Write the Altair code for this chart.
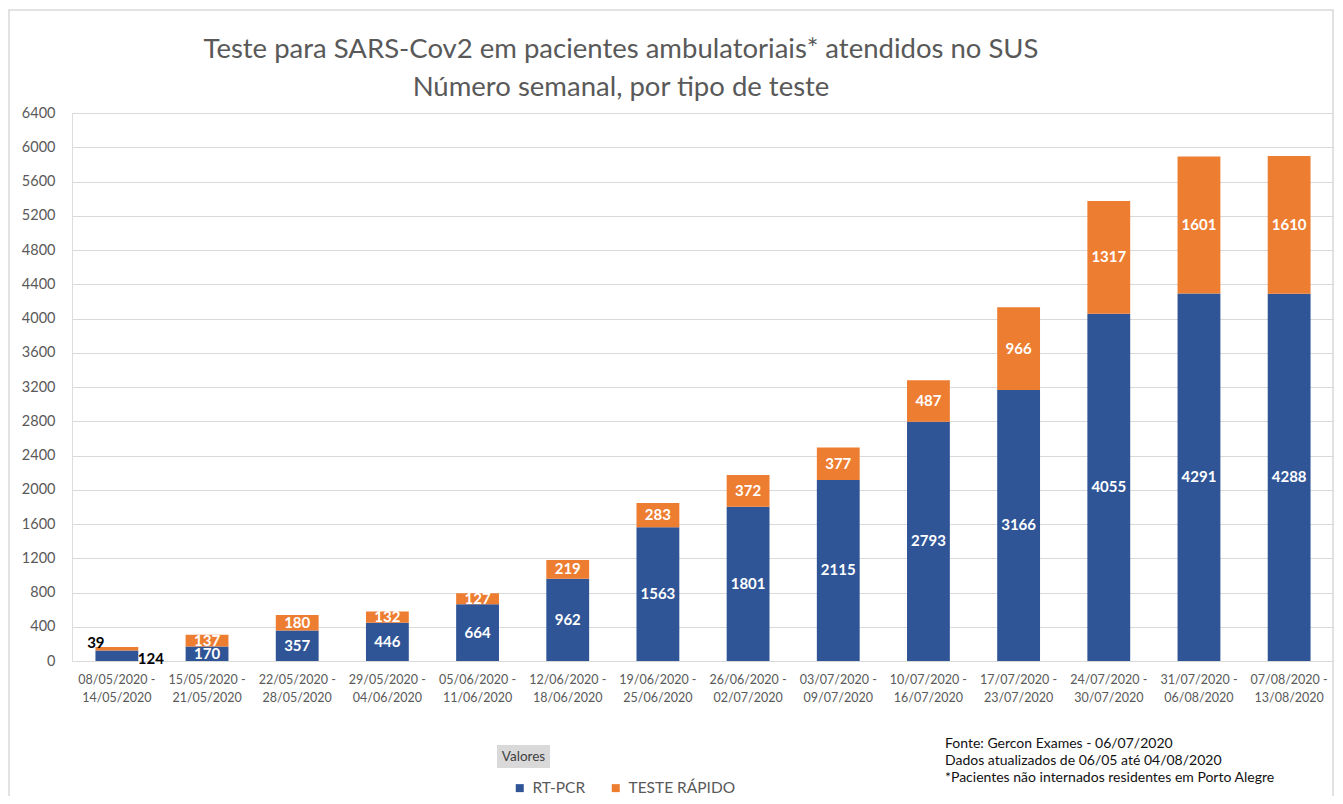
import altair as alt
import pandas as pd

inicio = ["08/05/2020", "15/05/2020", "22/05/2020", "29/05/2020", "05/06/2020", "12/06/2020", "19/06/2020",
          "26/06/2020", "03/07/2020", "10/07/2020", "17/07/2020", "24/07/2020", "31/07/2020", "07/08/2020"]
fim = ["14/05/2020", "21/05/2020", "28/05/2020", "04/06/2020", "11/06/2020", "18/06/2020", "25/06/2020",
       "02/07/2020", "09/07/2020", "16/07/2020", "23/07/2020", "30/07/2020", "06/08/2020", "13/08/2020"]
rt_pcr = [124, 170, 357, 446, 664, 962, 1563, 1801, 2115, 2793, 3166, 4055, 4291, 4288]
teste_rapido = [39, 137, 180, 132, 127, 219, 283, 372, 377, 487, 966, 1317, 1601, 1610]
tipos = ["RT-PCR", "TESTE RÁPIDO"]
cores = ["#2F5597", "#ED7D31"]
y_ticks = list(range(0, 6401, 400))
titulo = "Teste para SARS-Cov2 em pacientes ambulatoriais* atendidos no SUS\nNúmero semanal, por tipo de teste"
nota = "Fonte: Gercon Exames - 06/07/2020\nDados atualizados de 06/05 até 04/08/2020\n*Pacientes não internados residentes em Porto Alegre"

semanas = [f"{a} - {b}" for a, b in zip(inicio, fim)]
rows = []
for i, s in enumerate(semanas):
    base = 0
    for t, vals in zip(tipos, [rt_pcr, teste_rapido]):
        v = vals[i]
        rows.append({"semana": s, "tipo": t, "valor": v, "ini": base, "fim": base + v,
                     "meio": base + v / 2, "ordem": tipos.index(t), "primeira": i == 0})
        base += v
df = pd.DataFrame(rows)

FONT = "Lato"
W, H = 1262, 548

x_axis = alt.Axis(labelExpr="[substring(datum.value,0,12), substring(datum.value,13)]",
                  labelAngle=0, labelFontSize=12.5, labelColor="#595959", labelFont=FONT,
                  labelLineHeight=18, labelPadding=12, domain=False, ticks=False, grid=False)
x_scale = alt.Scale(paddingInner=0.525, paddingOuter=0.26)
y_axis = alt.Axis(values=y_ticks, format="d", labelFontSize=14.5, labelColor="#595959", labelFont=FONT,
                  labelOverlap=False, labelPadding=17, domain=False, ticks=False, grid=True,
                  gridColor="#D9D9D9")
y_scale = alt.Scale(domain=[0, 6400], nice=False)


def X():
    return alt.X("semana:N", sort=semanas, title=None, scale=x_scale, axis=x_axis)


def Y(field):
    return alt.Y(field, scale=y_scale, title=None, axis=y_axis)


base = alt.Chart(df)

bars = base.mark_bar().encode(
    x=X(),
    y=Y("ini:Q"),
    y2="fim:Q",
    color=alt.Color("tipo:N", scale=alt.Scale(domain=tipos, range=cores),
                    legend=alt.Legend(orient="none", legendX=440, legendY=667, direction="horizontal",
                                      title=None, symbolType="square", symbolSize=64, symbolStrokeWidth=0,
                                      labelFontSize=15.5, labelColor="#595959", labelFont=FONT,
                                      columnPadding=22, labelOffset=5)),
    order=alt.Order("ordem:Q"),
)

inside = base.transform_filter("!datum.primeira").mark_text(
    color="white", fontWeight="bold", fontSize=15, font=FONT, baseline="middle").encode(
    x=X(), y=Y("meio:Q"), text="valor:Q")

lab39 = base.transform_filter("datum.primeira && datum.ordem == 1").mark_text(
    color="black", fontWeight="bold", fontSize=15, font=FONT, baseline="bottom", align="center",
    dx=-21, dy=4).encode(x=X(), y=Y("fim:Q"), text="valor:Q")

lab124 = base.transform_filter("datum.primeira && datum.ordem == 0").mark_text(
    color="black", fontWeight="bold", fontSize=15, font=FONT, baseline="middle", align="left",
    dx=21, dy=-2).encode(x=X(), y=Y("ini:Q"), text="valor:Q")

legbox = alt.Chart(pd.DataFrame({"t": ["Valores"]})).mark_rect(color="#D9D9D9").encode(
    x=alt.value(425), x2=alt.value(478), y=alt.value(632), y2=alt.value(655))
legtxt = alt.Chart(pd.DataFrame({"t": ["Valores"]})).mark_text(
    fontSize=13.5, font=FONT, color="#404040", align="center", baseline="middle").encode(
    x=alt.value(451.5), y=alt.value(644), text="t:N")

notatxt = alt.Chart(pd.DataFrame({"t": [nota]})).mark_text(
    fontSize=14, font=FONT, color="#111111", align="left", baseline="top", lineBreak="\n", lineHeight=17).encode(
    x=alt.value(873), y=alt.value(624), text="t:N")

titxt = alt.Chart(pd.DataFrame({"t": [titulo]})).mark_text(
    fontSize=27.5, font=FONT, color="#595959", align="center", baseline="middle", lineBreak="\n",
    lineHeight=38).encode(x=alt.value(549), y=alt.value(-63), text="t:N")

moldura = alt.Chart(pd.DataFrame({"t": ["m"]})).mark_rect(fill=None, stroke="#D9D9D9", strokeWidth=1.5).encode(
    x=alt.value(-63), x2=alt.value(1261), y=alt.value(-103), y2=alt.value(700))

chart = alt.layer(moldura, bars, inside, lab39, lab124, legbox, legtxt, notatxt, titxt).properties(
    width=W, height=H,
    autosize=alt.AutoSizeParams(type="none"),
    padding={"left": 64, "top": 105, "right": 0, "bottom": 135},
).configure_view(stroke=None).configure(background="white")

chart.save("out.html", embed_options={"renderer": "svg", "actions": False})
